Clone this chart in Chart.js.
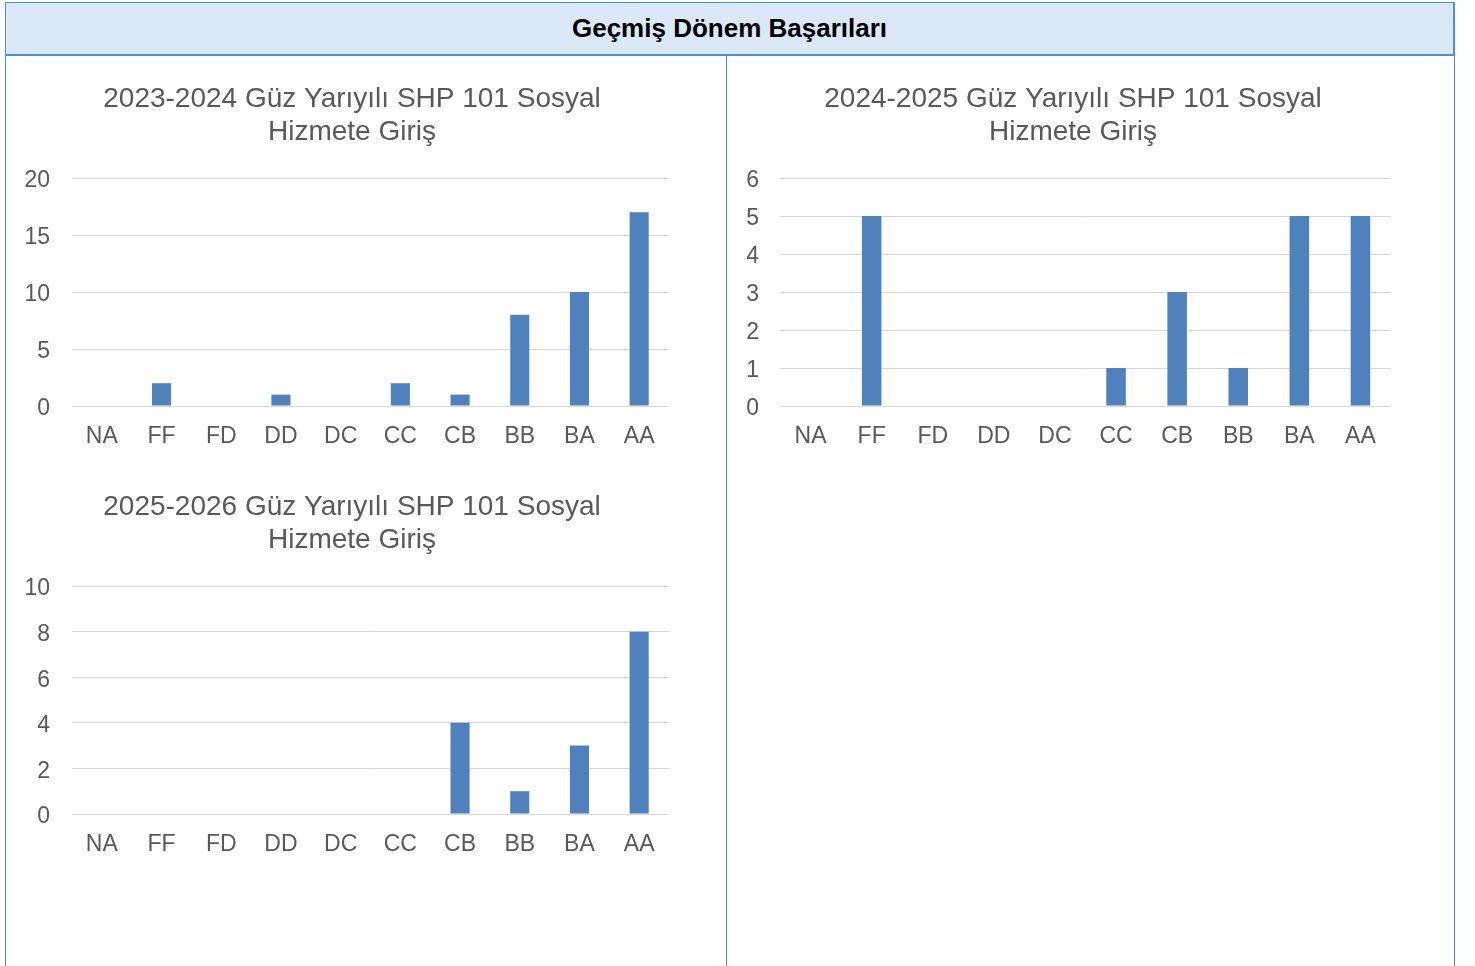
<!DOCTYPE html>
<html>
<head>
<meta charset="utf-8">
<script src="https://cdn.jsdelivr.net/npm/chart.js@4.4.0/dist/chart.umd.min.js"></script>
<style>
  html, body { margin:0; padding:0; background:#fff; width:1475px; height:966px; overflow:hidden; font-family:'Liberation Sans', Arial, sans-serif; }
  #header { position:absolute; left:5px; top:2px; width:1447px; height:51px; background:#DAE8F7; border:1px solid #4A90D9; border-width:1px 2px 2px 1px; text-align:center; line-height:51px; font-weight:bold; font-size:26px; color:#000; }
  .vline { position:absolute; top:55px; width:1px; height:911px; background:#3D8FDC; }
  canvas { position:absolute; }
</style>
</head>
<body>
<div id="header">Geçmiş Dönem Başarıları</div>
<div class="vline" style="left:5px"></div>
<div class="vline" style="left:726px"></div>
<div class="vline" style="left:1454px"></div>
<div id="c1wrap" style="position:absolute;left:6px;top:57px;width:720px;height:409px;"><canvas id="c1"></canvas></div>
<div id="c2wrap" style="position:absolute;left:727px;top:57px;width:727px;height:409px;"><canvas id="c2"></canvas></div>
<div id="c3wrap" style="position:absolute;left:6px;top:465px;width:720px;height:409px;"><canvas id="c3"></canvas></div>
<script>
const grades = ['NA','FF','FD','DD','DC','CC','CB','BB','BA','AA'];
const values2023 = [0,2,0,1,0,2,1,8,10,17];
const values2024 = [0,5,0,0,0,1,3,1,5,5];
const values2025 = [0,0,0,0,0,0,4,1,3,8];
const title2023 = ['2023-2024 Güz Yarıyılı SHP 101 Sosyal', 'Hizmete Giriş'];
const title2024 = ['2024-2025 Güz Yarıyılı SHP 101 Sosyal', 'Hizmete Giriş'];
const title2025 = ['2025-2026 Güz Yarıyılı SHP 101 Sosyal', 'Hizmete Giriş'];
const yMax2023 = 20, yStep2023 = 5;
const yMax2024 = 6, yStep2024 = 1;
const yMax2025 = 10, yStep2025 = 2;

const FONT = "'Liberation Sans', Arial, sans-serif";
const TXT = '#595959';

// let the y tick labels extend left of the padded scale box (no clipping)
const unclipY = {
  id: 'unclipY',
  afterLayout(chart) { chart.scales.y.left = 0; }
};

function makeChart(id, title, values, yMax, yStep, leftPad, yWidth, rightPad, yTickPad) {
  new Chart(document.getElementById(id), {
    type: 'bar',
    data: {
      labels: grades,
      datasets: [{
        data: values,
        backgroundColor: '#4F81BD',
        borderWidth: 0,
        barPercentage: 0.32,
        categoryPercentage: 1.0
      }]
    },
    plugins: [unclipY],
    options: {
      responsive: true,
      maintainAspectRatio: false,
      animation: false,
      layout: { padding: { left: leftPad, right: rightPad, top: 0, bottom: 0 } },
      plugins: {
        legend: { display: false },
        tooltip: { enabled: false },
        title: {
          display: true,
          text: title,
          color: TXT,
          font: { family: FONT, size: 28, weight: 'normal', lineHeight: 1.18 },
          padding: { top: 26, bottom: 29 }
        }
      },
      scales: {
        x: {
          grid: { display: false, drawTicks: false },
          border: { display: false },
          ticks: { color: TXT, font: { family: FONT, size: 23 }, padding: 17, maxRotation: 0, autoSkip: false },
          afterFit: (s) => { s.height = 60; }
        },
        y: {
          min: 0, max: yMax,
          grid: { color: '#D6D6D6', lineWidth: 1, drawTicks: false },
          border: { display: false },
          ticks: { stepSize: yStep, color: TXT, font: { family: FONT, size: 23 }, padding: yTickPad, labelOffset: 3 },
          afterFit: (s) => { s.width = yWidth; }
        }
      }
    }
  });
}

makeChart('c1', title2023, values2023, yMax2023, yStep2023, 29, 37, 57, 22);
makeChart('c2', title2024, values2024, yMax2024, yStep2024, 28, 25, 63, 21);
makeChart('c3', title2025, values2025, yMax2025, yStep2025, 29, 37, 57, 22);
</script>
</body>
</html>
